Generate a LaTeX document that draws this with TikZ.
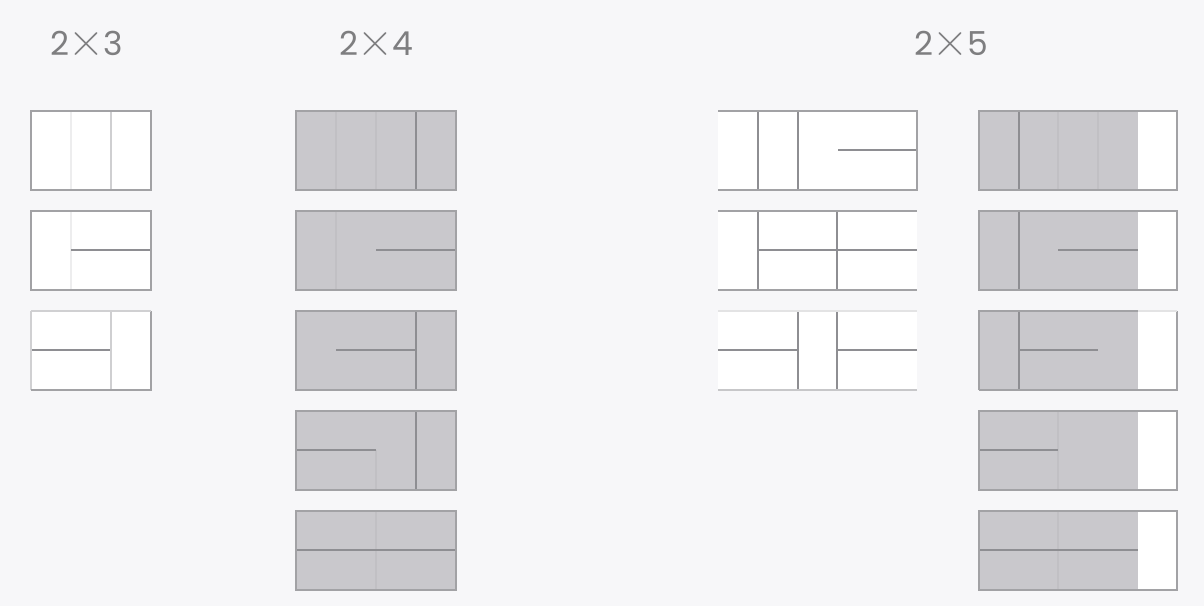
\documentclass[tikz,border=0pt]{standalone}
\usepackage{fontspec}
\setmainfont{Poppins}
\newfontfamily\xfont{Latin Modern Roman}
\newcommand{\tm}{\kern-1pt\raisebox{-1.5pt}{\xfont\fontsize{50}{50}\selectfont ×}\kern-1pt}
\definecolor{bgc}{HTML}{F7F7F9}
\definecolor{grayfill}{HTML}{C9C8CC}
\definecolor{edgec}{HTML}{A2A2A5}
\definecolor{linec}{HTML}{8E8E92}
\definecolor{faintw}{HTML}{EDEDEE}
\definecolor{faintg}{HTML}{C1C0C4}
\definecolor{txtc}{HTML}{7E7E80}
\begin{document}
\begin{tikzpicture}[x=1pt,y=-1pt,
  edge/.style={draw=edgec,line width=1.8pt},
  inner/.style={draw=linec,line width=1.4pt},
  fw/.style={draw=faintw,line width=1.2pt},
  fg/.style={draw=faintg,line width=1.2pt},
  wtile/.style={fill=white},
  gtile/.style={fill=grayfill},
  lbl/.style={text=txtc,font=\fontsize{33}{36}\selectfont,inner sep=0pt,anchor=base}]
\fill[bgc] (0,0) rectangle (1204,606);
\useasboundingbox (0,0) rectangle (1204,606);
% labels
\node[lbl] (l3) at (87,55) {2\tm 3};
\node[lbl] (l4) at (376,55) {2\tm 4};
\node[lbl] (l5) at (951,55) {2\tm 5};
% ---------- 2x3 ----------
% row 1
\fill[wtile] (31,111) rectangle (151,190);
\draw[fw] (71,111) -- (71,190);
\draw[inner,draw=faintw!60!edgec] (111,111) -- (111,190);
\draw[edge] (31,111) rectangle (151,190);
% row 2
\fill[wtile] (31,211) rectangle (151,290);
\draw[fw] (71,211) -- (71,290);
\draw[inner] (71,250) -- (151,250);
\draw[edge] (31,211) rectangle (151,290);
% row 3
\fill[wtile] (31,311) rectangle (151,390);
\draw[inner] (31,350) -- (111,350);
\draw[inner,draw=faintw!60!edgec] (111,311) -- (111,390);
\draw[edge,draw=edgec!50!white] (31,311) -- (31,390);
\draw[edge] (31,390) -- (151,390) -- (151,311);
\draw[edge,draw=edgec!50!white] (31,311) -- (151,311);
% ---------- 2x4 ----------
% row 1
\fill[gtile] (296,111) rectangle (456,190);
\draw[fg] (336,111) -- (336,190) (376,111) -- (376,190);
\draw[inner] (416,111) -- (416,190);
\draw[edge] (296,111) rectangle (456,190);
% row 2
\fill[gtile] (296,211) rectangle (456,290);
\draw[fg] (336,211) -- (336,290);
\draw[inner] (376,250) -- (456,250);
\draw[edge] (296,211) rectangle (456,290);
% row 3
\fill[gtile] (296,311) rectangle (456,390);
\draw[inner] (336,350) -- (416,350);
\draw[inner] (416,311) -- (416,390);
\draw[edge] (296,311) rectangle (456,390);
% row 4
\fill[gtile] (296,411) rectangle (456,490);
\draw[fg] (376,450) -- (376,490);
\draw[inner] (296,450) -- (376,450);
\draw[inner] (416,411) -- (416,490);
\draw[edge] (296,411) rectangle (456,490);
% row 5
\fill[gtile] (296,511) rectangle (456,590);
\draw[fg] (376,511) -- (376,590);
\draw[inner] (296,550) -- (456,550);
\draw[edge] (296,511) rectangle (456,590);
% ---------- 2x5 left (white) ----------
% row 1
\fill[wtile] (718,111) rectangle (917,190);
\draw[inner] (758,111) -- (758,190) (798,111) -- (798,190);
\draw[inner] (838,150) -- (917,150);
\draw[edge] (718,111) -- (917,111) -- (917,190) -- (718,190);
% row 2
\fill[wtile] (718,211) rectangle (917,290);
\draw[inner] (758,211) -- (758,290);
\draw[inner] (758,250) -- (917,250);
\draw[inner] (837,211) -- (837,290);
\draw[edge] (718,211) -- (917,211);
\draw[edge] (718,290) -- (917,290);
% row 3
\fill[wtile] (718,311) rectangle (917,390);
\draw[inner] (718,350) -- (798,350);
\draw[inner] (798,311) -- (798,390) (837,311) -- (837,390);
\draw[inner] (837,350) -- (917,350);
\draw[edge,draw=edgec!30!white] (718,311) -- (917,311);
\draw[edge,draw=edgec!60!white] (718,390) -- (917,390);
% ---------- 2x5 right (gray + white column) ----------
% row 1
\fill[gtile] (979,111) rectangle (1138,190);
\fill[wtile] (1138,111) rectangle (1177,190);
\draw[fg] (1058,111) -- (1058,190) (1098,111) -- (1098,190);
\draw[inner] (1019,111) -- (1019,190);
\draw[edge] (979,111) rectangle (1177,190);
% row 2
\fill[gtile] (979,211) rectangle (1138,290);
\fill[wtile] (1138,211) rectangle (1177,290);
\draw[inner] (1019,211) -- (1019,290);
\draw[inner] (1058,250) -- (1138,250);
\draw[edge] (979,211) rectangle (1177,290);
% row 3
\fill[gtile] (979,311) rectangle (1138,390);
\fill[wtile] (1138,311) rectangle (1177,390);
\draw[inner] (1019,311) -- (1019,390);
\draw[inner] (1019,350) -- (1098,350);
\draw[edge] (979,390) -- (979,311) -- (1138,311);
\draw[edge] (979,390) -- (1177,390) -- (1177,311);
\draw[edge,draw=edgec!30!white] (1138,311) -- (1177,311);
% row 4
\fill[gtile] (979,411) rectangle (1138,490);
\fill[wtile] (1138,411) rectangle (1177,490);
\draw[fg] (1058,411) -- (1058,490);
\draw[inner] (979,450) -- (1058,450);
\draw[edge] (979,411) rectangle (1177,490);
% row 5
\fill[gtile] (979,511) rectangle (1138,590);
\fill[wtile] (1138,511) rectangle (1177,590);
\draw[fg] (1058,511) -- (1058,590);
\draw[inner] (979,550) -- (1138,550);
\draw[edge] (979,511) rectangle (1177,590);
\end{tikzpicture}
\end{document}
